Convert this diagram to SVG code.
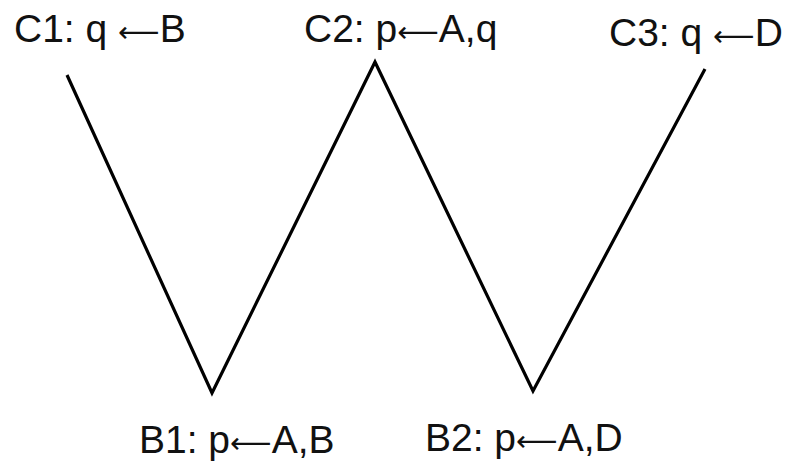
<svg xmlns="http://www.w3.org/2000/svg" width="788" height="466" viewBox="0 0 788 466">
<style>
text{font-family:"Liberation Sans",Arial,sans-serif;font-size:39px;fill:#111}
.ar{font-family:"DejaVu Sans",sans-serif;font-size:29px}
.ln{fill:none;stroke:#000;stroke-width:3.2;stroke-linejoin:miter}
</style>
<rect width="788" height="466" fill="#fff"/>
<g id="connectors">
<polyline class="ln" points="67,75 212,393 375,62 533,391 705,69"/>
</g>
<g id="C1"><text x="14" y="42">C1: q <tspan class="ar">⟵</tspan>B</text></g>
<g id="C2"><text x="304" y="42">C2: p<tspan class="ar">⟵</tspan>A,q</text></g>
<g id="C3"><text x="609" y="46">C3: q <tspan class="ar">⟵</tspan>D</text></g>
<g id="B1"><text x="139" y="453">B1: p<tspan class="ar">⟵</tspan>A,B</text></g>
<g id="B2"><text x="425" y="451">B2: p<tspan class="ar">⟵</tspan>A,D</text></g>
</svg>
